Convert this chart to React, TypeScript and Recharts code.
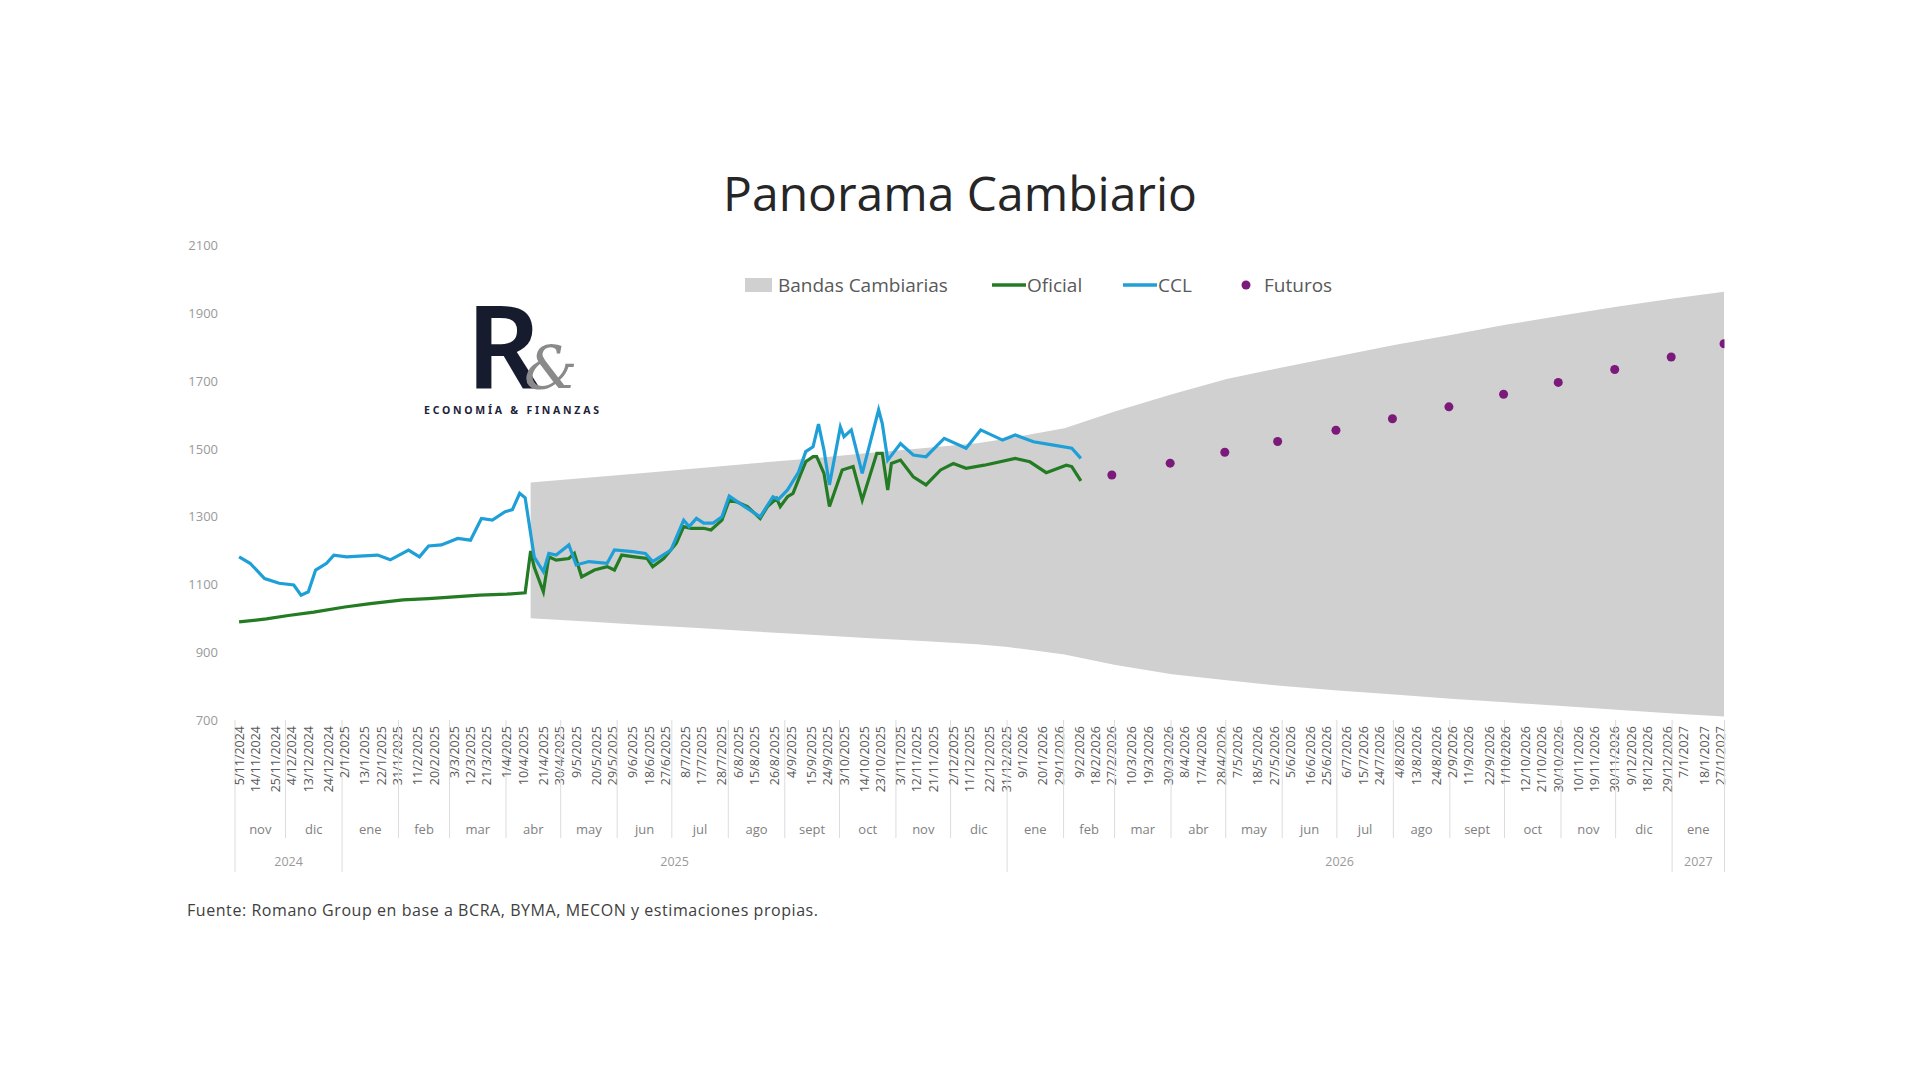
import React from 'react';
import { ComposedChart, Line, Area, XAxis, YAxis } from 'recharts';

// ---------- DATA ----------
const oficialDates = [
  '2024-11-05','2024-11-20','2024-12-02','2024-12-16','2025-01-02','2025-01-16','2025-02-03','2025-02-17',
  '2025-03-03','2025-03-17','2025-04-01','2025-04-11','2025-04-14','2025-04-16','2025-04-21','2025-04-24',
  '2025-04-28','2025-05-05','2025-05-08','2025-05-12','2025-05-19','2025-05-26','2025-05-30','2025-06-03',
  '2025-06-10','2025-06-17','2025-06-20','2025-06-26','2025-07-03','2025-07-07','2025-07-11','2025-07-18',
  '2025-07-22','2025-07-28','2025-08-01','2025-08-05','2025-08-11','2025-08-18','2025-08-22','2025-08-27',
  '2025-08-29','2025-09-02','2025-09-05','2025-09-09','2025-09-12','2025-09-16','2025-09-18','2025-09-22',
  '2025-09-25','2025-10-02','2025-10-08','2025-10-13','2025-10-21','2025-10-24','2025-10-27','2025-10-29',
  '2025-11-03','2025-11-10','2025-11-17','2025-11-25','2025-12-02','2025-12-09','2025-12-19','2026-01-05',
  '2026-01-13','2026-01-22','2026-02-02','2026-02-05','2026-02-10',
];
const oficialValues = [
  989, 998, 1008, 1018, 1033, 1043, 1054, 1058,
  1063, 1068, 1071, 1075, 1198, 1150, 1078, 1181,
  1171, 1176, 1191, 1122, 1142, 1152, 1142, 1186,
  1181, 1176, 1152, 1176, 1221, 1270, 1265, 1265,
  1260, 1289, 1348, 1343, 1329, 1294, 1329, 1353,
  1329, 1358, 1368, 1422, 1461, 1476, 1476, 1427,
  1329, 1437, 1447, 1348, 1486, 1486, 1378, 1456,
  1466, 1417, 1393, 1437, 1456, 1442, 1451, 1471,
  1461, 1429, 1451, 1447, 1405,
];

const cclDates = [
  '2024-11-05','2024-11-11','2024-11-19','2024-11-27','2024-12-05','2024-12-09','2024-12-13','2024-12-17',
  '2024-12-23','2024-12-27','2025-01-03','2025-01-10','2025-01-20','2025-01-27','2025-02-06','2025-02-12',
  '2025-02-17','2025-02-24','2025-03-05','2025-03-12','2025-03-18','2025-03-24','2025-03-31','2025-04-04',
  '2025-04-08','2025-04-11','2025-04-14','2025-04-16','2025-04-21','2025-04-24','2025-04-28','2025-05-05',
  '2025-05-09','2025-05-16','2025-05-26','2025-05-30','2025-06-09','2025-06-16','2025-06-20','2025-06-30',
  '2025-07-07','2025-07-10','2025-07-14','2025-07-18','2025-07-23','2025-07-28','2025-08-01','2025-08-08',
  '2025-08-18','2025-08-25','2025-08-28','2025-09-02','2025-09-08','2025-09-12','2025-09-16','2025-09-19',
  '2025-09-22','2025-09-25','2025-10-01','2025-10-03','2025-10-07','2025-10-13','2025-10-22','2025-10-24',
  '2025-10-27','2025-11-03','2025-11-10','2025-11-17','2025-11-27','2025-12-09','2025-12-17','2025-12-29',
  '2026-01-05','2026-01-15','2026-01-26','2026-02-05','2026-02-10',
];
const cclValues = [
  1181, 1162, 1117, 1103, 1098, 1068, 1078, 1142,
  1162, 1186, 1181, 1183, 1186, 1172, 1201, 1181,
  1213, 1216, 1235, 1230, 1294, 1289, 1314, 1320,
  1368, 1355, 1250, 1180, 1137, 1191, 1186, 1216,
  1157, 1167, 1162, 1201, 1196, 1191, 1167, 1201,
  1289, 1270, 1294, 1280, 1280, 1299, 1360, 1334,
  1299, 1358, 1350, 1378, 1430, 1491, 1505, 1572,
  1496, 1393, 1564, 1535, 1555, 1427, 1614, 1574,
  1466, 1515, 1481, 1476, 1530, 1501, 1555, 1525,
  1540, 1520, 1510, 1501, 1471,
];

const bandDates = [
  '2025-04-14','2025-05-15','2025-06-15','2025-07-15','2025-08-15','2025-09-15','2025-10-15','2025-11-15',
  '2025-12-15','2026-01-01','2026-02-01','2026-03-01','2026-04-01','2026-05-01','2026-06-01','2026-07-01',
  '2026-08-01','2026-09-01','2026-10-01','2026-11-01','2026-12-01','2027-01-01','2027-01-29',
];
const bandHigh = [
  1400, 1414, 1428, 1442, 1457, 1471, 1486, 1501,
  1516, 1530, 1560, 1610, 1660, 1705, 1740, 1772,
  1805, 1835, 1865, 1892, 1918, 1942, 1962,
];
const bandLow = [
  1000, 990, 980, 971, 961, 951, 942, 933,
  923, 915, 893, 862, 835, 817, 800, 787,
  775, 763, 752, 741, 730, 719, 710,
];

const futurosDates = [
  '2026-02-27','2026-03-31','2026-04-30','2026-05-29','2026-06-30','2026-07-31',
  '2026-08-31','2026-09-30','2026-10-30','2026-11-30','2026-12-31','2027-01-29',
];
const futurosValues = [1422, 1457, 1489, 1521, 1554, 1588, 1623, 1660, 1695, 1733, 1770, 1809];

const yTicks = [700, 900, 1100, 1300, 1500, 1700, 1900, 2100];

const dateTickLabels = [
  '5/11/2024','14/11/2024','25/11/2024','4/12/2024','13/12/2024','24/12/2024',
  '2/1/2025','13/1/2025','22/1/2025','31/1/2025','11/2/2025','20/2/2025','3/3/2025','12/3/2025','21/3/2025',
  '1/4/2025','10/4/2025','21/4/2025','30/4/2025','9/5/2025','20/5/2025','29/5/2025','9/6/2025','18/6/2025',
  '27/6/2025','8/7/2025','17/7/2025','28/7/2025','6/8/2025','15/8/2025','26/8/2025','4/9/2025','15/9/2025',
  '24/9/2025','3/10/2025','14/10/2025','23/10/2025','3/11/2025','12/11/2025','21/11/2025','2/12/2025',
  '11/12/2025','22/12/2025','31/12/2025','9/1/2026','20/1/2026','29/1/2026','9/2/2026','18/2/2026',
  '27/2/2026','10/3/2026','19/3/2026','30/3/2026','8/4/2026','17/4/2026','28/4/2026','7/5/2026','18/5/2026',
  '27/5/2026','5/6/2026','16/6/2026','25/6/2026','6/7/2026','15/7/2026','24/7/2026','4/8/2026','13/8/2026',
  '24/8/2026','2/9/2026','11/9/2026','22/9/2026','1/10/2026','12/10/2026','21/10/2026','30/10/2026',
  '10/11/2026','19/11/2026','30/11/2026','9/12/2026','18/12/2026','29/12/2026','7/1/2027','18/1/2027',
  '27/1/2027',
];

const monthStarts = [
  '2024-11-01','2024-12-01','2025-01-01','2025-02-01','2025-03-01','2025-04-01','2025-05-01','2025-06-01',
  '2025-07-01','2025-08-01','2025-09-01','2025-10-01','2025-11-01','2025-12-01','2026-01-01','2026-02-01',
  '2026-03-01','2026-04-01','2026-05-01','2026-06-01','2026-07-01','2026-08-01','2026-09-01','2026-10-01',
  '2026-11-01','2026-12-01','2027-01-01',
];
const monthLabels = [
  'nov','dic','ene','feb','mar','abr','may','jun','jul','ago','sept','oct','nov','dic',
  'ene','feb','mar','abr','may','jun','jul','ago','sept','oct','nov','dic','ene',
];
const yearStarts = ['2024-01-01', '2025-01-01', '2026-01-01', '2027-01-01'];
const yearLabels = ['2024', '2025', '2026', '2027'];

// ---------- HELPERS ----------
const BASE = Date.UTC(2024, 10, 5);
const dayNum = (s: string) => {
  const [y, m, d] = s.split('-').map(Number);
  return Math.round((Date.UTC(y, m - 1, d) - BASE) / 86400000);
};
const dayFromLabel = (s: string) => {
  const [d, m, y] = s.split('/').map(Number);
  return Math.round((Date.UTC(y, m - 1, d) - BASE) / 86400000);
};

const D0 = -2.25;
const D1 = 815.25;

const oficialData = oficialDates.map((d, i) => ({ t: dayNum(d), v: oficialValues[i] }));
const cclData = cclDates.map((d, i) => ({ t: dayNum(d), v: cclValues[i] }));
const bandData = bandDates.map((d, i) => ({ t: dayNum(d), range: [bandLow[i], bandHigh[i]] }));
const futurosData = futurosDates.map((d, i) => ({ t: dayNum(d), v: futurosValues[i] }));

type TickItem = { kind: 'date' | 'sep' | 'month' | 'year'; label?: string; long?: boolean };
const tickInfo = new Map<number, TickItem>();
dateTickLabels.forEach((l) => tickInfo.set(dayFromLabel(l), { kind: 'date', label: l }));

const yearBoundarySet = new Set(yearStarts.map((s) => dayNum(s) - 0.5));
const monthBounds = monthStarts.map((s, i) => (i === 0 ? D0 : dayNum(s) - 0.5));
monthBounds.push(D1);
monthBounds.forEach((b, i) => {
  const isEdge = i === 0 || i === monthBounds.length - 1;
  tickInfo.set(b, { kind: 'sep', long: isEdge || yearBoundarySet.has(b) });
});
monthLabels.forEach((l, i) => {
  const mid = (monthBounds[i] + monthBounds[i + 1]) / 2 + 0.01;
  tickInfo.set(mid, { kind: 'month', label: l });
});
const yearBounds = yearStarts.map((s, i) => (i === 0 ? D0 : dayNum(s) - 0.5));
yearBounds.push(D1);
yearLabels.forEach((l, i) => {
  const mid = (yearBounds[i] + yearBounds[i + 1]) / 2 + 0.02;
  tickInfo.set(mid, { kind: 'year', label: l });
});
const xTicks = Array.from(tickInfo.keys()).sort((a, b) => a - b);

// ---------- STYLE ----------
const FONT = "'Open Sans', 'Noto Sans', sans-serif";
const GREEN = '#237b23';
const BLUE = '#1f9fd8';
const PURPLE = '#7b1a7b';
const BAND = '#d0d0d0';

const XTick = (props: any) => {
  const { x, y, payload } = props;
  const item = tickInfo.get(payload.value);
  if (!item) return <g />;
  if (item.kind === 'date') {
    const ty = y + 6;
    return (
      <text
        x={x}
        y={ty}
        transform={`rotate(-90, ${x}, ${ty})`}
        textAnchor="end"
        dominantBaseline="central"
        fontSize={12.5}
        fontFamily={FONT}
        fill="#595959"
      >
        {item.label}
      </text>
    );
  }
  if (item.kind === 'sep') {
    return <line x1={x} x2={x} y1={y} y2={y + (item.long ? 152 : 118)} stroke="#dcdcdc" strokeWidth={1} />;
  }
  if (item.kind === 'month') {
    return (
      <text x={x} y={y + 109} textAnchor="middle" dominantBaseline="central" fontSize={13} fontFamily={FONT} fill="#7f7f7f">
        {item.label}
      </text>
    );
  }
  return (
    <text x={x} y={y + 141} textAnchor="middle" dominantBaseline="central" fontSize={12.5} fontFamily={FONT} fill="#9a9a9a">
      {item.label}
    </text>
  );
};

const YTick = (props: any) => {
  const { x, y, payload } = props;
  return (
    <text x={x} y={y} textAnchor="end" dominantBaseline="central" fontSize={13} fontFamily={FONT} fill="#9a9a9a">
      {payload.value}
    </text>
  );
};

export default function App() {
  return (
    <div style={{ position: 'absolute', left: 0, top: 0, width: 1920, height: 1070, background: '#ffffff', overflow: 'hidden' }}>
      <div style={{ position: 'absolute', left: 0, top: 0 }}>
        <ComposedChart
          width={1920}
          height={1070}
          margin={{ top: 245, right: 195.5, bottom: 190, left: 175 }}
        >
          <XAxis
            dataKey="t"
            type="number"
            domain={[D0, D1]}
            allowDataOverflow
            ticks={xTicks}
            interval={0}
            tick={<XTick />}
            tickLine={false}
            axisLine={false}
            tickSize={0}
            tickMargin={0}
            height={160}
          />
          <YAxis
            type="number"
            domain={[700, 2100]}
            ticks={yTicks}
            interval={0}
            tick={<YTick />}
            axisLine={false}
            tickLine={false}
            tickSize={0}
            tickMargin={17}
            width={60}
          />
          <Area
            data={bandData}
            dataKey="range"
            type="linear"
            fill={BAND}
            fillOpacity={1}
            stroke="none"
            isAnimationActive={false}
            dot={false}
            activeDot={false}
          />
          <Line
            data={oficialData}
            dataKey="v"
            type="linear"
            stroke={GREEN}
            strokeWidth={3.2}
            dot={false}
            activeDot={false}
            isAnimationActive={false}
          />
          <Line
            data={cclData}
            dataKey="v"
            type="linear"
            stroke={BLUE}
            strokeWidth={3.2}
            dot={false}
            activeDot={false}
            isAnimationActive={false}
          />
          <Line
            data={futurosData}
            dataKey="v"
            type="linear"
            stroke="none"
            strokeWidth={0}
            dot={{ r: 4.5, fill: PURPLE, stroke: 'none' }}
            activeDot={false}
            isAnimationActive={false}
          />
        </ComposedChart>
      </div>
      <svg width={1920} height={1070} style={{ position: 'absolute', left: 0, top: 0, pointerEvents: 'none' }}>
        <text x={960} y={211} textAnchor="middle" fontSize={48} fontFamily={FONT} fill="#262626">
          Panorama Cambiario
        </text>
        {/* legend */}
        <rect x={745} y={278} width={27} height={14} fill={BAND} />
        <text x={778} y={292} fontSize={19} fontFamily={FONT} fill="#595959">Bandas Cambiarias</text>
        <line x1={992} x2={1026} y1={285} y2={285} stroke={GREEN} strokeWidth={3.5} />
        <text x={1027} y={292} fontSize={19} fontFamily={FONT} fill="#595959">Oficial</text>
        <line x1={1123} x2={1157} y1={285} y2={285} stroke={BLUE} strokeWidth={3.5} />
        <text x={1158} y={292} fontSize={19} fontFamily={FONT} fill="#595959">CCL</text>
        <circle cx={1246} cy={285} r={4.5} fill={PURPLE} />
        <text x={1264} y={292} fontSize={19} fontFamily={FONT} fill="#595959">Futuros</text>
        {/* logo */}
        <text fontFamily="'Noto Sans', sans-serif">
          <tspan x={466} y={389} fontSize={116} fontWeight={600} fill="#161c2e">R</tspan>
          <tspan x={524} y={389} fontSize={60} fontStyle="italic" fontFamily="'DejaVu Serif', 'Liberation Serif', serif" fill="#8a8a8a">&amp;</tspan>
          <tspan x={424} y={414} fontSize={10.5} fontWeight={700} fill="#1c2238" letterSpacing={2.75}>ECONOMÍA &amp; FINANZAS</tspan>
        </text>
        {/* footer */}
        <text x={187} y={916} fontSize={16} fontFamily={FONT} fill="#404040" textLength={631} lengthAdjust="spacing">
          Fuente: Romano Group en base a BCRA, BYMA, MECON y estimaciones propias.
        </text>
      </svg>
    </div>
  );
}
